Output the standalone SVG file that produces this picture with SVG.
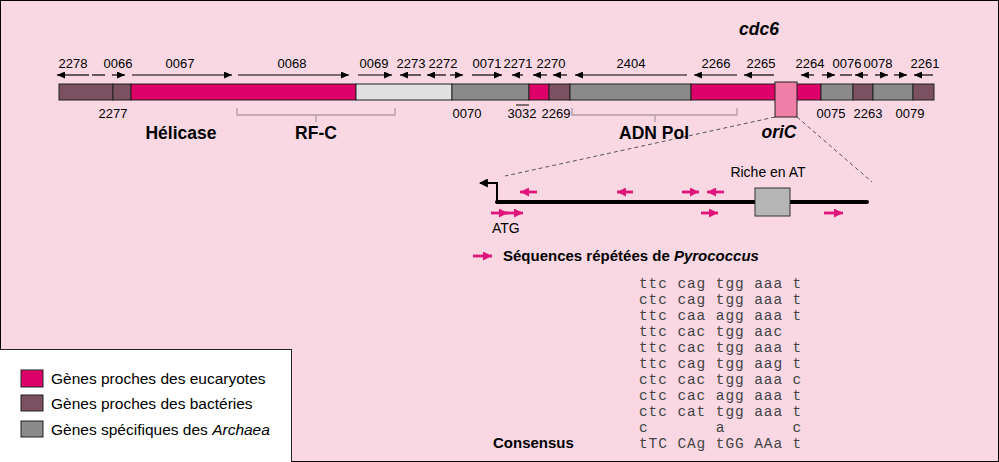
<svg xmlns="http://www.w3.org/2000/svg" width="999" height="462" viewBox="0 0 999 462">
<defs>
<marker id="ah" viewBox="0 0 8 7" refX="8" refY="3.5" markerWidth="8" markerHeight="7" markerUnits="userSpaceOnUse" orient="auto"><path d="M0,0 L8,3.5 L0,7 z" fill="#000"/></marker>
<marker id="ahp" viewBox="0 0 9 9" refX="9" refY="4.5" markerWidth="9" markerHeight="9" markerUnits="userSpaceOnUse" orient="auto"><path d="M0,0 L9,4.5 L0,9 z" fill="#e0157a"/></marker>
<marker id="ahb" viewBox="0 0 8 8" refX="7" refY="4" markerWidth="9" markerHeight="9" markerUnits="userSpaceOnUse" orient="auto"><path d="M0,0 L8,4 L0,8 z" fill="#000"/></marker>
<style>
.t{font-family:"Liberation Sans",Arial,sans-serif;fill:#000}
.n{font-size:13px;text-anchor:middle}
.b{font-weight:bold;font-size:17.5px;text-anchor:middle}
.bi{font-weight:bold;font-style:italic;font-size:17.5px;text-anchor:middle}
.g{stroke:#222;stroke-width:1}
.eu{fill:#de0068}
.ba{fill:#7b5060}
.ar{fill:#8a8a8a}
.lg{fill:#e0e0e0}
.a{stroke:#000;stroke-width:1.2;fill:none;marker-end:url(#ah)}
.l{stroke:#000;stroke-width:1.2;fill:none}
.p{stroke:#e0157a;stroke-width:2.8;fill:none;marker-end:url(#ahp)}
.br{stroke:#b39aa6;stroke-width:1.3;fill:none}
.d{stroke:#555;stroke-width:1;stroke-dasharray:4 3;fill:none}
.m{font-family:"Liberation Mono","Courier New",monospace;font-size:14.5px;letter-spacing:0.9px;fill:#444;white-space:pre}
</style>
</defs>
<rect x="0.5" y="0.5" width="998" height="461" fill="#f9d8e4" stroke="#000" stroke-width="1"/>

<g id="connectors">
<path class="a" d="M89,75 H57"/>
<path class="l" d="M92,75 H105"/>
<path class="a" d="M112,75 H125"/>
<path class="a" d="M132,75 H232"/>
<path class="a" d="M238,75 H349"/>
<path class="a" d="M358,75 H392"/>
<path class="a" d="M421,75 H400"/>
<path class="a" d="M446,75 H427"/>
<path class="a" d="M450,75 H463"/>
<path class="a" d="M472,75 H502"/>
<path class="a" d="M523,75 H512"/>
<path class="a" d="M547,75 H533"/>
<path class="a" d="M567,75 H553"/>
<path class="a" d="M687,75 H575"/>
<path class="a" d="M737,75 H694"/>
<path class="a" d="M774,75 H744"/>
<path class="a" d="M814,75 H801"/>
<path class="a" d="M822,75 H835"/>
<path class="l" d="M840,75 H852"/>
<path class="a" d="M868,75 H855"/>
<path class="a" d="M875,75 H888"/>
<path class="a" d="M894,75 H907"/>
<path class="a" d="M933,75 H914"/>
<path class="br" d="M237,108 V115 H395 V108 M316,115 V122"/>
<path class="br" d="M572,108 V115 H737 V108 M655,115 V122"/>
<path class="d" d="M775,117 L505,176"/>
<path class="d" d="M797,117 L872,182"/>
</g>

<g id="chromosome">
<rect class="g ba" x="59" y="84" width="54" height="16"/>
<rect class="g ba" x="113" y="84" width="18" height="16"/>
<rect class="g eu" x="131" y="84" width="225" height="16"/>
<rect class="g lg" x="356" y="84" width="96" height="16"/>
<rect class="g ar" x="452" y="84" width="77" height="16"/>
<rect class="g eu" x="529" y="84" width="20" height="16"/>
<rect class="g ba" x="549" y="84" width="21" height="16"/>
<rect class="g ar" x="570" y="84" width="121" height="16"/>
<rect class="g eu" x="691" y="84" width="130" height="16"/>
<rect class="g ar" x="821" y="84" width="32" height="16"/>
<rect class="g ba" x="853" y="84" width="20" height="16"/>
<rect class="g ar" x="873" y="84" width="40" height="16"/>
<rect class="g ba" x="913" y="84" width="21" height="16"/>
</g>

<g id="oriC">
<rect x="775" y="82" width="22" height="35" fill="#f07fa8" stroke="#222" stroke-width="1"/>
<text class="t bi" x="779" y="138">oriC</text>
</g>

<g id="labels-top">
<text class="t n" x="73" y="68">2278</text>
<text class="t n" x="118" y="68">0066</text>
<text class="t n" x="180" y="68">0067</text>
<text class="t n" x="292" y="68">0068</text>
<text class="t n" x="374" y="68">0069</text>
<text class="t n" x="411" y="68">2273</text>
<text class="t n" x="443" y="68">2272</text>
<text class="t n" x="487" y="68">0071</text>
<text class="t n" x="518" y="68">2271</text>
<text class="t n" x="551" y="68">2270</text>
<text class="t n" x="631" y="68">2404</text>
<text class="t n" x="716" y="68">2266</text>
<text class="t n" x="761" y="68">2265</text>
<text class="t n" x="810" y="68">2264</text>
<text class="t n" x="847" y="68">0076</text>
<text class="t n" x="878" y="68">0078</text>
<text class="t n" x="925" y="68">2261</text>
</g>

<g id="cdc6"><text class="t bi" x="759" y="35">cdc6</text></g>

<g id="labels-bottom">
<text class="t n" x="113" y="118">2277</text>
<text class="t n" x="467" y="118">0070</text>
<text class="t n" x="522" y="118">3032</text>
<path d="M516,105 H529" stroke="#000" stroke-width="1"/>
<text class="t n" x="556" y="118">2269</text>
<text class="t n" x="831" y="118">0075</text>
<text class="t n" x="868" y="118">2263</text>
<text class="t n" x="910" y="118">0079</text>
</g>

<g id="helicase"><text class="t b" x="181" y="139">Hélicase</text></g>
<g id="rfc"><text class="t b" x="316" y="139">RF-C</text></g>
<g id="adnpol"><text class="t b" x="654" y="139">ADN Pol</text></g>

<g id="origin-detail">
<path d="M497,202 H867" stroke="#000" stroke-width="4" stroke-linecap="round" fill="none"/>
<path d="M497,202 V183 H480" stroke="#000" stroke-width="2" fill="none" marker-end="url(#ahb)"/>
<rect x="755" y="188" width="35" height="28" fill="#b5b5b5" stroke="#333" stroke-width="1"/>
<text class="t" x="768" y="177" font-size="14" text-anchor="middle">Riche en AT</text>
<path class="p" d="M537,192 H520"/>
<path class="p" d="M633,192 H617"/>
<path class="p" d="M682,192 H699"/>
<path class="p" d="M724,192 H707"/>
<path class="p" d="M491,213 H508"/>
<path class="p" d="M505,213 H523"/>
<path class="p" d="M701,213 H718"/>
<path class="p" d="M824,213 H843"/>
<text class="t" x="492" y="233" font-size="14">ATG</text>
</g>

<g id="repeat-legend">
<path class="p" d="M473,256 H492"/>
<text class="t" x="503" y="261" font-size="15" font-weight="bold">Séquences répétées de <tspan font-style="italic">Pyrococcus</tspan></text>
</g>

<g id="sequences">
<text class="m" x="639" y="288" xml:space="preserve">ttc cag tgg aaa t</text>
<text class="m" x="639" y="304" xml:space="preserve">ctc cag tgg aaa t</text>
<text class="m" x="639" y="320" xml:space="preserve">ttc caa agg aaa t</text>
<text class="m" x="639" y="336" xml:space="preserve">ttc cac tgg aac</text>
<text class="m" x="639" y="352" xml:space="preserve">ttc cac tgg aaa t</text>
<text class="m" x="639" y="368" xml:space="preserve">ttc cag tgg aag t</text>
<text class="m" x="639" y="384" xml:space="preserve">ctc cac tgg aaa c</text>
<text class="m" x="639" y="400" xml:space="preserve">ctc cac agg aaa t</text>
<text class="m" x="639" y="416" xml:space="preserve">ctc cat tgg aaa t</text>
<text class="m" x="639" y="432" xml:space="preserve">c       a       c</text>
<text class="m" x="639" y="448" xml:space="preserve">tTC CAg tGG AAa t</text>
<text class="t" x="493" y="448" font-size="15" font-weight="bold">Consensus</text>
</g>

<g id="legend">
<rect x="-1" y="349.5" width="292.5" height="114" fill="#fff" stroke="#222" stroke-width="1"/>
<rect class="g eu" x="21" y="370" width="22" height="17"/>
<rect class="g ba" x="21" y="395" width="22" height="16"/>
<rect class="g ar" x="21" y="421" width="22" height="16"/>
<text class="t" x="51" y="384" font-size="15.5">Gènes proches des eucaryotes</text>
<text class="t" x="51" y="409" font-size="15.5">Gènes proches des bactéries</text>
<text class="t" x="51" y="435" font-size="15.5">Gènes spécifiques des <tspan font-style="italic">Archaea</tspan></text>
</g>
</svg>
